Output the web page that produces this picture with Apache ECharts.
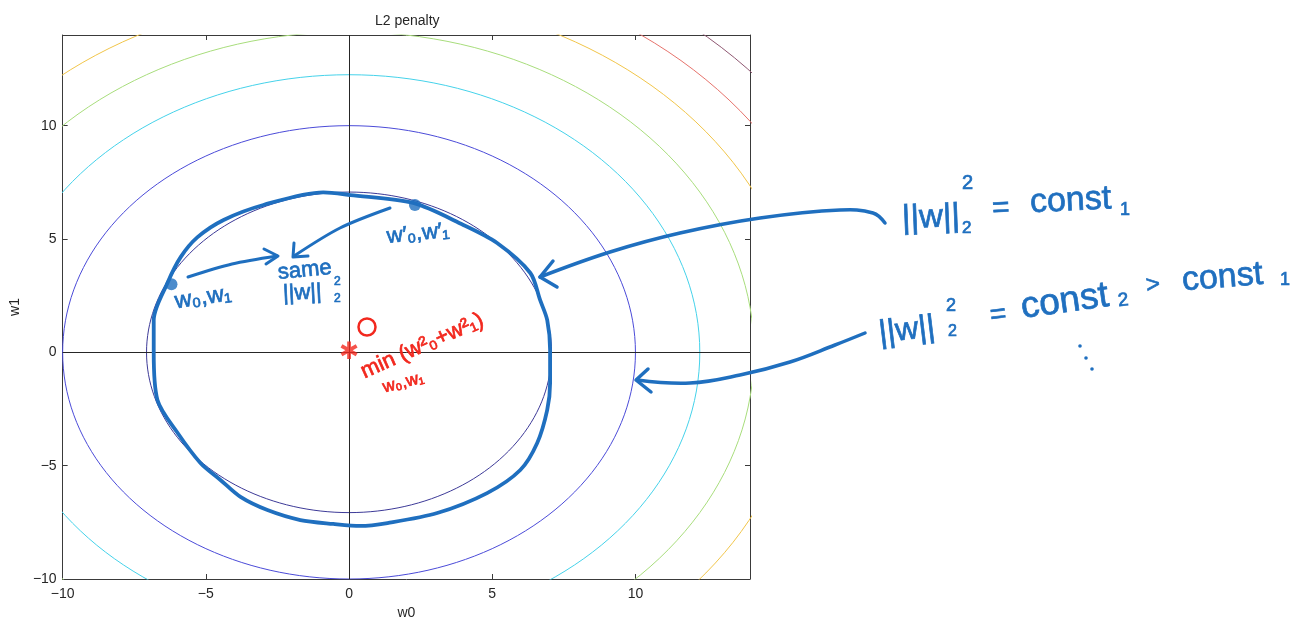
<!DOCTYPE html>
<html>
<head>
<meta charset="UTF-8">
<title>L2 penalty</title>
<script src="https://cdn.jsdelivr.net/npm/echarts@6/dist/echarts.min.js"></script>
<style>
  html, body { margin: 0; padding: 0; background: #fff; }
  #main { width: 1307px; height: 625px; }
</style>
</head>
<body>
<div id="main"></div>
<script>
// contour levels of w0^2 + w1^2 (radius = sqrt(level))
var levels = [50, 100, 150, 200, 250, 300, 350];
var levelColors = ['#3d3a98', '#4b4bd8', '#45d2ea', '#a8dd7c', '#f1c54a', '#e6736c', '#8f5872'];
var tickValues = [-10, -5, 0, 5, 10];
var axisMax = 14;

// hand drawn loop (w0, w1), clockwise from the left
var loopW0 = [-6.82, -6.82, -6.34, -5.88, -5.29, -4.38, -2.99, -0.90, 0.05, 2.24, 3.99, 5.17, 6.33, 6.67, 6.92, 7.02, 7.02, 6.92, 6.57, 5.98, 4.82, 3.08, 1.34, 0.39, -0.55, -1.70, -2.85, -3.79, -4.49, -5.19, -5.99, -6.69, -6.82];
var loopW1 = [0, 1.42, 3.06, 4.20, 5.08, 5.84, 6.50, 7.06, 6.94, 6.59, 5.62, 4.82, 3.50, 2.31, 1.42, 0.10, -1.36, -2.54, -4.00, -5.19, -6.21, -7.09, -7.53, -7.66, -7.57, -7.40, -6.96, -6.38, -5.63, -4.88, -3.55, -2.10, 0];

// the two marked points on the loop and the minimum
var pointW0 = [-6.2, 2.3];
var pointW1 = [3.0, 6.5];
var minW0 = [0];
var minW1 = [0];

var blue = '#1f6fbf';
var red = '#f2281e';
var font = '"Liberation Sans", "DejaVu Sans", sans-serif';

function ring(level) {
    var r = Math.sqrt(level), pts = [];
    for (var a = 0; a <= 360; a += 2) {
        var t = a * Math.PI / 180;
        pts.push([r * Math.cos(t), r * Math.sin(t)]);
    }
    return pts;
}
function zip(a, b) {
    return a.map(function (v, i) { return [v, b[i]]; });
}
function tickFmt(v) {
    return v < 0 ? '\u2212' + Math.abs(v) : String(v);
}

// overlay ink (arrows, handwriting)
function ink(pts, w, smooth) {
    return {
        type: 'polyline', silent: true, z: 100,
        shape: { points: pts, smooth: smooth || 0 },
        style: { stroke: blue, lineWidth: w || 3, fill: null, lineCap: 'round', lineJoin: 'round' }
    };
}
function word(s, x, y, size, rot, color) {
    var c = color || blue;
    return {
        type: 'text', silent: true, z: 100, x: x, y: y, rotation: rot || 0,
        style: {
            text: s, font: size + 'px ' + font, fill: c, stroke: c, lineWidth: 0.7,
            textAlign: 'left', textVerticalAlign: 'middle', verticalAlign: 'middle'
        }
    };
}

var series = [];
levels.forEach(function (lv, i) {
    series.push({
        type: 'line', data: ring(lv), showSymbol: false, clip: true,
        lineStyle: { color: levelColors[i], width: 1 }, z: 2
    });
});
series.push({
    type: 'line', data: [], z: 3, silent: true,
    markLine: {
        silent: true, symbol: 'none', label: { show: false },
        lineStyle: { color: '#262626', width: 1, type: 'solid' },
        data: [{ xAxis: 0 }, { yAxis: 0 }]
    }
});
series.push({
    type: 'line', data: zip(loopW0, loopW1), showSymbol: false, smooth: 0.3,
    lineStyle: { color: blue, width: 3.8 }, z: 5
});
series.push({
    type: 'scatter', data: zip(pointW0, pointW1), symbolSize: 12,
    itemStyle: { color: blue }, z: 6
});
series.push({
    type: 'scatter', data: zip(minW0, minW1), symbolSize: 0.1, z: 6,
    itemStyle: { color: red },
    label: { show: true, position: 'inside', formatter: '\u2731', fontSize: 24, color: red }
});

var graphics = [
    // labels at the marked points
    word('w\u2080,w\u2081', 175, 302, 23, 0.15),
    word('w\u2032\u2080,w\u2032\u2081', 387, 237, 22, 0.1),
    word('same', 278, 273, 22, 0.1),
    word('||w||', 283, 294, 22, 0.05),
    word('2', 334, 282, 12, 0),
    word('2', 334, 299, 12, 0),
    ink([[188, 277], [232, 264], [277, 256]], 3, 0.3),
    ink([[264, 249], [278, 256], [266, 264]], 3),
    ink([[390, 208], [340, 228], [294, 256]], 3, 0.3),
    ink([[294, 243], [293, 257], [308, 256]], 3),
    // red minimum annotation
    { type: 'circle', silent: true, z: 100, shape: { cx: 367, cy: 327, r: 8.5 },
      style: { stroke: red, lineWidth: 2.5, fill: null } },
    word('min (w\u00b2\u2080+w\u00b2\u2081)', 362, 373, 22, 0.42, red),
    word('w\u2080,w\u2081', 383, 388, 17, 0.25, red),
    // big arrows
    ink([[885, 223], [873, 213], [840, 210], [760, 218], [680, 233], [610, 252], [540, 277]], 3.5, 0.4),
    ink([[553, 261], [540, 277], [557, 287]], 3.5),
    ink([[865, 333], [835, 345], [790, 362], [740, 375], [690, 383], [637, 380]], 3.5, 0.4),
    ink([[648, 369], [636, 380], [651, 392]], 3.5),
    // ||w||_2^2 = const_1
    word('||w||', 902, 219, 33, 0.04),
    word('2', 962, 183, 20, 0),
    word('2', 962, 228, 17, 0),
    word('=', 992, 209, 30, 0.05),
    word('const', 1030, 203, 34, 0.05),
    word('1', 1120, 210, 18, 0),
    // ||w||_2^2 = const_2 > const_1
    word('||w||', 879, 334, 32, 0.12),
    word('2', 946, 306, 18, 0),
    word('2', 948, 332, 16, 0),
    word('=', 990, 316, 28, 0.12),
    word('const', 1021, 308, 37, 0.14),
    word('2', 1118, 301, 19, 0.1),
    word('>', 1146, 286, 24, 0.1),
    word('const', 1182, 281, 34, 0.08),
    word('1', 1280, 280, 18, 0),
    { type: 'circle', silent: true, z: 100, shape: { cx: 1080, cy: 346, r: 1.8 }, style: { fill: blue } },
    { type: 'circle', silent: true, z: 100, shape: { cx: 1086, cy: 358, r: 1.8 }, style: { fill: blue } },
    { type: 'circle', silent: true, z: 100, shape: { cx: 1092, cy: 369, r: 1.8 }, style: { fill: blue } }
];

function axis(kind, pos, named) {
    var a = {
        type: 'value', position: pos,
        min: tickValues[0], max: axisMax, interval: tickValues[1] - tickValues[0],
        splitLine: { show: false },
        axisLine: { show: true, onZero: false, lineStyle: { color: '#3a3a3a', width: 1 } },
        axisTick: { show: true, inside: true, length: 5, lineStyle: { color: '#3a3a3a' } },
        axisLabel: {
            show: named, formatter: tickFmt, color: '#262626', fontSize: 14,
            fontFamily: font, margin: kind === 'x' ? 8 : 6, showMaxLabel: false
        }
    };
    if (named) {
        a.name = kind === 'x' ? 'w0' : 'w1';
        a.nameLocation = 'middle';
        a.nameGap = kind === 'x' ? 27 : 39;
        a.nameTextStyle = { color: '#262626', fontSize: 14, fontFamily: font };
    }
    return a;
}

var chart = echarts.init(document.getElementById('main'));
chart.setOption({
    animation: false,
    backgroundColor: '#fff',
    title: {
        text: 'L2 penalty', left: 370, top: 9,
        textStyle: { fontSize: 14, fontWeight: 'normal', color: '#262626', fontFamily: font }
    },
    grid: { left: 62, top: 35, right: 557, bottom: 46 },
    xAxis: [axis('x', 'bottom', true), axis('x', 'top', false)],
    yAxis: [axis('y', 'left', true), axis('y', 'right', false)],
    series: series,
    graphic: graphics
});
</script>
</body>
</html>
